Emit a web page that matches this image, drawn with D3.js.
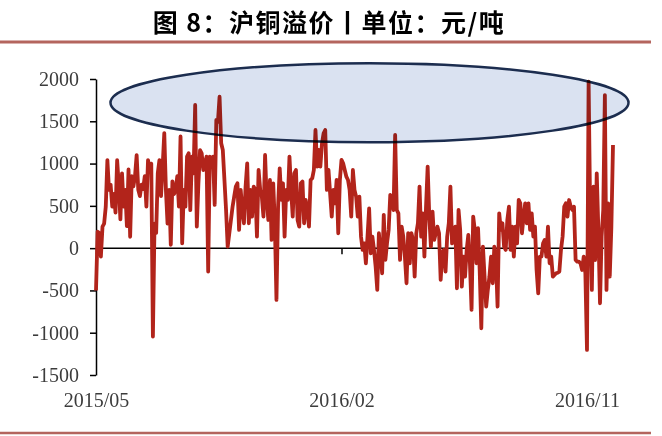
<!DOCTYPE html>
<html><head><meta charset="utf-8">
<script src="https://cdn.jsdelivr.net/npm/d3@7/dist/d3.min.js"></script>
<style>body{margin:0;background:#fff}</style>
</head><body><svg id="c" width="662" height="436"></svg>
<script>
const title = "图 8：沪铜溢价丨单位：元/吨";
const values = [
-500,195,180,-100,255,290,490,1040,690,750,490,640,420,1040,750,340,885,490,690,260,930,135,850,730,850,1100,690,615,750,700,850,490,1040,930,1000,-1045,290,180,885,1040,615,970,1360,690,290,690,40,790,640,690,850,490,1320,
57,688,490,1082,1122,450,1082,885,1693,255,767,1160,1122,924,1003,1082,-277,1082,964,1082,511,1515,1496,1790,1240,1160,806,450,18,176,333,490,609,727,767,215,688,450,294,727,1003,294,688,373,727,688,136,924,688,609,373,1102,570,
333,806,97,767,294,-612,490,944,570,767,136,688,570,1082,688,373,885,924,333,255,767,787,294,570,451,255,806,826,924,1397,964,1161,964,1240,1358,1397,688,924,649,373,688,530,806,176,806,1043,1003,924,845,806,688,373,924,
688,609,373,609,136,-21,57,-179,136,471,-61,136,-21,-218,-494,176,-61,-297,393,-139,57,215,629,609,451,1338,451,412,-139,255,136,-100,-415,176,-179,176,97,-336,176,294,727,136,412,-100,491,964,373,18,432,97,176,255,176,
-376,-61,-21,-277,136,294,727,57,97,255,-474,452,215,-455,-100,-336,-21,156,-179,-730,373,215,-179,235,-258,-947,18,-336,-691,-494,-336,-100,-415,18,-139,-691,412,215,294,18,-21,333,491,-21,255,-100,255,57,570,530,176,373,530,
294,530,215,412,136,254,-258,-534,-100,-100,57,97,-100,254,-179,-100,-337,-317,-297,-290,-278,-21,136,491,530,372,569,491,451,491,-140,-160,-160,-179,-258,-100,-297,
-1204,1968,333,-494,727,-140,885,215,-652,136,451,1810,-494,530,-337,254,1220
];
const yTicks = [-1500,-1000,-500,0,500,1000,1500,2000];
const xTickIdx = [0,151,302];
const xTickLabels = ["2015/05","2016/02","2016/11"];

const svg = d3.select("#c");
svg.append("rect").attr("width",662).attr("height",436).attr("fill","#fff");

const x = d3.scaleLinear().domain([0, values.length-1]).range([96, 613]);
const y = d3.scaleLinear().domain([-1500, 2000]).range([375, 79]);

// title
svg.append("text").attr("x",329).attr("y",32).attr("text-anchor","middle")
  .attr("font-family","'Noto Sans CJK SC', sans-serif").attr("font-weight","bold")
  .attr("font-size",25).attr("letter-spacing","1.5px").attr("fill","#000").text(title);
svg.append("line").attr("x1",0).attr("x2",651).attr("y1",42).attr("y2",42)
  .attr("stroke","#b4655e").attr("stroke-width",3);
svg.append("line").attr("x1",0).attr("x2",651).attr("y1",433).attr("y2",433)
  .attr("stroke","#b4655e").attr("stroke-width",2.5);

// x axis at zero
const xAxis = d3.axisBottom(x).tickValues(xTickIdx)
  .tickFormat((d,i)=>xTickLabels[i]).tickSize(6).tickPadding(139).tickSizeOuter(0);
const gx = svg.append("g").attr("transform",`translate(0,${y(0)})`).call(xAxis);
gx.select(".domain").remove();
gx.append("line").attr("x1",96).attr("x2",604).attr("y1",0).attr("y2",0)
  .attr("stroke","#000").attr("stroke-width",1.5);
gx.selectAll(".tick line").attr("stroke","#000").attr("stroke-width",1.5);
gx.selectAll(".tick text").attr("font-family","'Liberation Serif', serif")
  .attr("font-size",20).attr("fill","#3c3c3c");

// y axis
const yAxis = d3.axisLeft(y).tickValues(yTicks).tickFormat(d=>String(d))
  .tickSize(6).tickPadding(11).tickSizeOuter(0);
const gy = svg.append("g").attr("transform","translate(96,0)").call(yAxis);
gy.select(".domain").attr("stroke","#000").attr("stroke-width",1.5);
gy.selectAll(".tick line").attr("stroke","#000").attr("stroke-width",1.5);
gy.selectAll(".tick text").attr("font-family","'Liberation Serif', serif")
  .attr("font-size",20).attr("fill","#3c3c3c");

// series
const line = d3.line().x((d,i)=>x(i)).y(d=>y(d));
svg.append("path").datum(values).attr("d",line).attr("fill","none")
  .attr("stroke","#b2241b").attr("stroke-width",3.8).attr("stroke-linejoin","round");

// highlight ellipse
svg.append("ellipse").attr("cx",369.5).attr("cy",102.7).attr("rx",259).attr("ry",39.5)
  .attr("fill","#dae2f1").attr("stroke","#1c2d4f").attr("stroke-width",2.5)
  .style("mix-blend-mode","multiply");
</script></body></html>
